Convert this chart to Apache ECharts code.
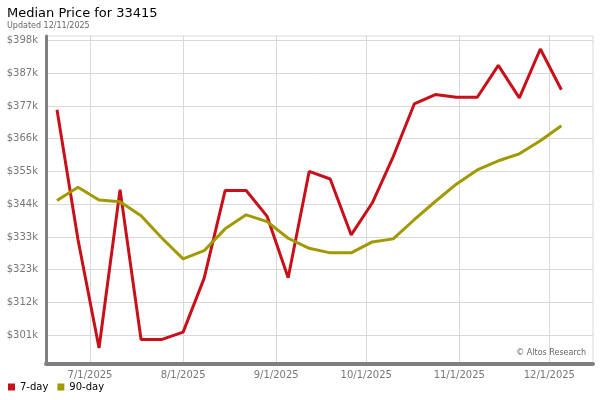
<!DOCTYPE html>
<html>
<head>
<meta charset="utf-8">
<script src="https://cdn.jsdelivr.net/npm/echarts@6/dist/echarts.min.js"></script>
<style>html,body{margin:0;padding:0;background:#fff}#c{width:600px;height:400px}</style>
</head>
<body>
<div id="c"></div>
<script>
const dates = ['2025-06-20','2025-06-27','2025-07-04','2025-07-11','2025-07-18','2025-07-25',
  '2025-08-01','2025-08-08','2025-08-15','2025-08-22','2025-08-29','2025-09-05','2025-09-12',
  '2025-09-19','2025-09-26','2025-10-03','2025-10-10','2025-10-17','2025-10-24','2025-10-31',
  '2025-11-07','2025-11-14','2025-11-21','2025-11-28','2025-12-05'];
const sevenDay = [375.8,333.0,297.4,349.5,300.2,300.2,302.6,320.3,349.2,349.2,340.7,320.5,355.5,
  353.0,334.6,345.1,360.4,377.7,380.8,379.9,379.9,390.4,379.7,395.8,382.4];
const ninetyDay = [345.9,350.3,346.1,345.5,340.9,333.5,326.7,329.4,336.6,341.2,339.0,333.5,330.2,
  328.7,328.7,332.3,333.3,339.6,345.6,351.3,356.0,359.0,361.3,365.6,370.5];
const yTickValues = [301.6,312.38,323.16,333.94,344.72,355.5,366.28,377.06,387.84,398.62];
const yTickLabels = ['$301k','$312k','$323k','$333k','$344k','$355k','$366k','$377k','$387k','$398k'];
const xTickDates = ['2025-07-01','2025-08-01','2025-09-01','2025-10-01','2025-11-01','2025-12-01'];

function ts(s){ const p=s.split(/[-T:]/).map(Number); return new Date(p[0],p[1]-1,p[2],p[3]||0,p[4]||0).getTime(); }
const xTicks = xTickDates.map(ts);

const chart = echarts.init(document.getElementById('c'), null, {renderer:'canvas'});
chart.setOption({
  animation:false,
  textStyle:{fontFamily:'DejaVu Sans'},
  title:[
    {text:'Median Price for 33415', left:2, top:2, textStyle:{fontSize:13, fontWeight:'normal', color:'#000', fontFamily:'DejaVu Sans'}},
    {text:'Updated 12/11/2025', left:2, top:17, textStyle:{fontSize:8, fontWeight:'normal', color:'#666', fontFamily:'DejaVu Sans'}}
  ],
  legend:{left:3, top:377, icon:'rect', itemWidth:7, itemHeight:7, itemGap:9,
    textStyle:{fontSize:10, color:'#000', fontFamily:'DejaVu Sans'},
    data:['7-day','90-day']},
  grid:{left:46, right:7, top:36, bottom:36, show:true, borderColor:'#d8d8d8', borderWidth:1, backgroundColor:'#fff'},
  xAxis:{type:'value', min:ts('2025-06-16T08:00'), max:ts('2025-12-15T13:00'),
    axisLine:{show:true, lineStyle:{color:'#808080', width:4}},
    axisTick:{show:false, customValues:xTicks},
    axisLabel:{customValues:xTicks, color:'#777', fontSize:10, margin:6,
      formatter:function(v){const d=new Date(v); return (d.getMonth()+1)+'/'+d.getDate()+'/'+d.getFullYear();}},
    splitLine:{show:true, lineStyle:{color:'#d8d8d8', width:1}}},
  yAxis:{type:'value', min:292.12, max:400.07,
    axisLine:{show:true, lineStyle:{color:'#808080', width:3}},
    axisTick:{show:false, customValues:yTickValues},
    axisLabel:{customValues:yTickValues, color:'#777', fontSize:10, margin:8,
      formatter:function(v){let best=0;for(let i=0;i<yTickValues.length;i++){if(Math.abs(yTickValues[i]-v)<Math.abs(yTickValues[best]-v))best=i;}return yTickLabels[best];}},
    splitLine:{show:true, lineStyle:{color:'#d8d8d8', width:1}}},
  graphic:[{type:'text', right:14, top:349, style:{text:'© Altos Research', fontSize:8, fill:'#666', fontFamily:'DejaVu Sans'}}],
  series:[
    {name:'7-day', type:'line', symbol:'none', color:'#c8101a', lineStyle:{width:3, color:'#c8101a'},
      data:dates.map((d,i)=>[ts(d), sevenDay[i]])},
    {name:'90-day', type:'line', symbol:'none', color:'#a09a00', lineStyle:{width:3, color:'#a09a00'},
      data:dates.map((d,i)=>[ts(d), ninetyDay[i]])}
  ]
});
</script>
</body>
</html>
